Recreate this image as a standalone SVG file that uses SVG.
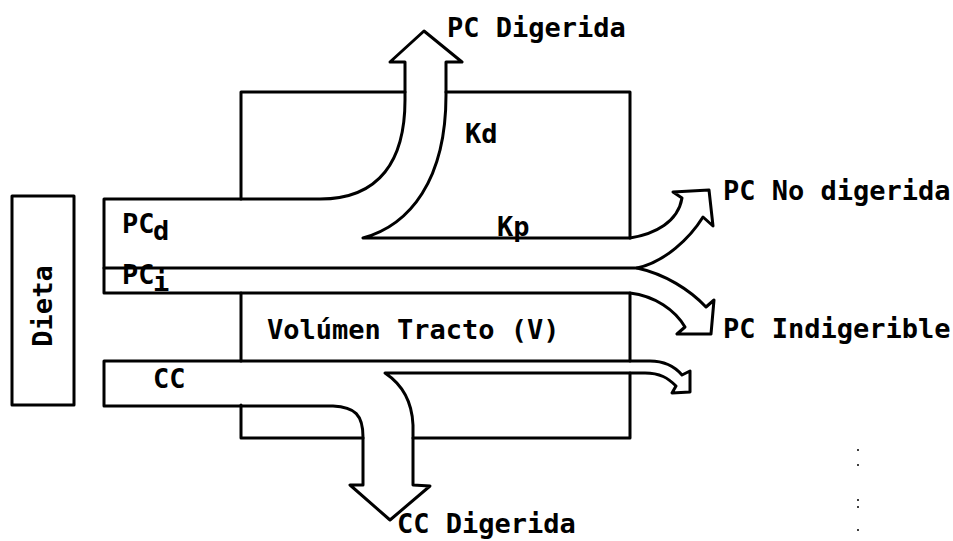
<svg xmlns="http://www.w3.org/2000/svg" width="953" height="541" viewBox="0 0 953 541">
<style>
.ln{fill:none;stroke:#000;stroke-width:3;stroke-linejoin:round;stroke-linecap:round}
.t{font-family:"DejaVu Sans Mono","Liberation Mono",monospace;font-weight:bold;font-size:27px;fill:#000}
.dot{fill:#000}
</style>
<rect width="953" height="541" fill="#fff"/>
<g id="dieta">
<rect class="ln" x="12" y="196" width="62" height="209"/>
<text class="t" transform="translate(52,306) rotate(-90)" text-anchor="middle">Dieta</text>
</g>
<g id="tracto">
<path class="ln" d="M241,199 V92 H405 M446,92 H630 V238 M630,293 V361 M630,373 V438 H413 M363,438 H241 V405 M241,361 V293"/>
<text class="t" x="267" y="339">Volúmen Tracto (V)</text>
</g>
<g id="connectors">
<path id="flujo-pcd" class="ln" d="M104,268 V199 H320 C380,199 405,160 405,100 V62 H390 L424,31 L462,62 H446 V95 C446,180 410,225 363,238 H630 C655,234 678,222 682,198 L673,192 L709,190 L713,226 L703,217 C690,238 665,262 637,268 H104"/>
<path id="flujo-pci" class="ln" d="M104,268 V293 H630 C655,296 675,310 685,327 L677,334 L711,334 L714,300 L706,307 C690,290 665,274 637,268"/>
<path id="flujo-cc" class="ln" d="M104,361 H650 C665,361 676,368 682,375 L690,371 L690,392 L672,393 L676,386 C668,378 660,373 645,373 H385 C400,383 412,400 413,425 V485 L430,486 L390,520 L350,485 L363,485 V437 C363,415 355,407 333,406 H104 Z"/>
</g>
<g id="etiquetas">
<text class="t" x="122" y="233">PC</text><text class="t" x="153" y="240">d</text>
<text class="t" x="122" y="284">PC</text><text class="t" x="153" y="291">i</text>
<text class="t" x="153" y="388">CC</text>
<text class="t" x="465" y="143">Kd</text>
<text class="t" x="497" y="236">Kp</text>
<text class="t" x="447" y="37">PC Digerida</text>
<text class="t" x="723" y="200">PC No digerida</text>
<text class="t" x="723" y="338">PC Indigerible</text>
<text class="t" x="397" y="533">CC Digerida</text>
</g>
<g id="puntos">
<circle class="dot" cx="858" cy="450" r="1"/>
<circle class="dot" cx="858" cy="465" r="1"/>
<circle class="dot" cx="858" cy="500" r="1"/>
<circle class="dot" cx="858" cy="507" r="1"/>
<circle class="dot" cx="858" cy="530" r="1"/>
</g>
</svg>
